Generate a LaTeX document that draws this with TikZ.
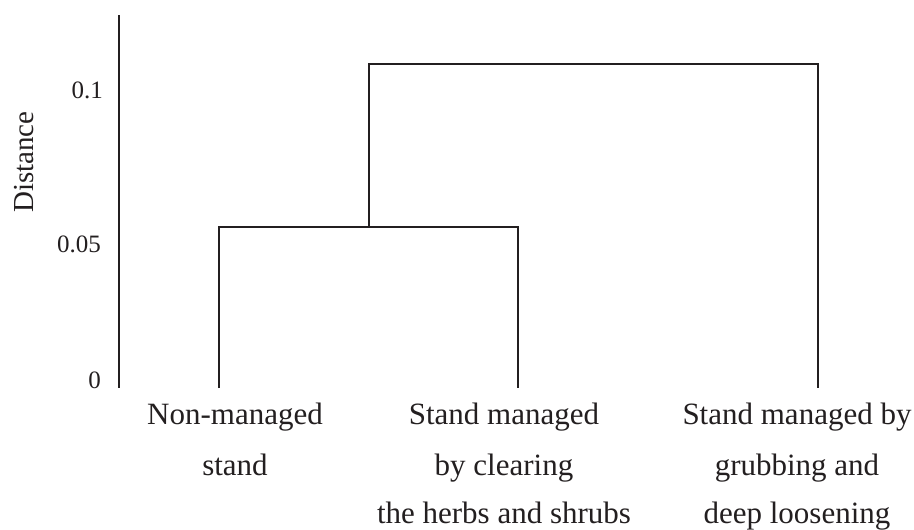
\documentclass[tikz,border=0pt]{standalone}
\usepackage{fontspec}
\setmainfont{Liberation Serif}
\definecolor{ink}{HTML}{231F20}
\begin{document}
\begin{tikzpicture}[x=1pt,y=-1pt,
  axis/.style={draw=ink,line width=1.7pt},
  link/.style={draw=ink,line width=1.4pt},
  ticklab/.style={anchor=base east,inner sep=0pt,text=ink,font=\fontsize{25}{29}\selectfont},
  cat/.style={anchor=base,inner sep=0pt,text=ink,font=\fontsize{31}{36}\selectfont},
  axlab/.style={anchor=base,rotate=90,inner sep=0pt,text=ink,font=\fontsize{29}{34}\selectfont}]
\path[use as bounding box] (0,0) rectangle (914,530);
% axis
\coordinate (atop) at (119,15);
\coordinate (abot) at (119,388);
\draw[axis] (atop) -- (abot);
\node[ticklab] (t1) at (103,98) {0.1};
\node[ticklab] (t2) at (101,252) {0.05};
\node[ticklab] (t0) at (101,388) {0};
\node[axlab] (dist) at (33,162) {Distance};
% dendrogram
\coordinate (l1) at (219,388);
\coordinate (l2) at (518,388);
\coordinate (l3) at (818,388);
\coordinate (m1) at (369,227);
\coordinate (m2) at (593.5,64);
\draw[link] (l1) |- (m1) -| (l2);
\draw[link] (m1) |- (m2) -| (l3);
% category labels
\node[cat] (a1) at (235,424) {Non-managed};
\node[cat] (a2) at (235,475) {stand};
\node[cat] (b1) at (504,424) {Stand managed};
\node[cat] (b2) at (504,475) {by clearing};
\node[cat] (b3) at (504,523) {the herbs and shrubs};
\node[cat] (c1) at (797,424) {Stand managed by};
\node[cat] (c2) at (797,475) {grubbing and};
\node[cat] (c3) at (797,523) {deep loosening};
\end{tikzpicture}
\end{document}
